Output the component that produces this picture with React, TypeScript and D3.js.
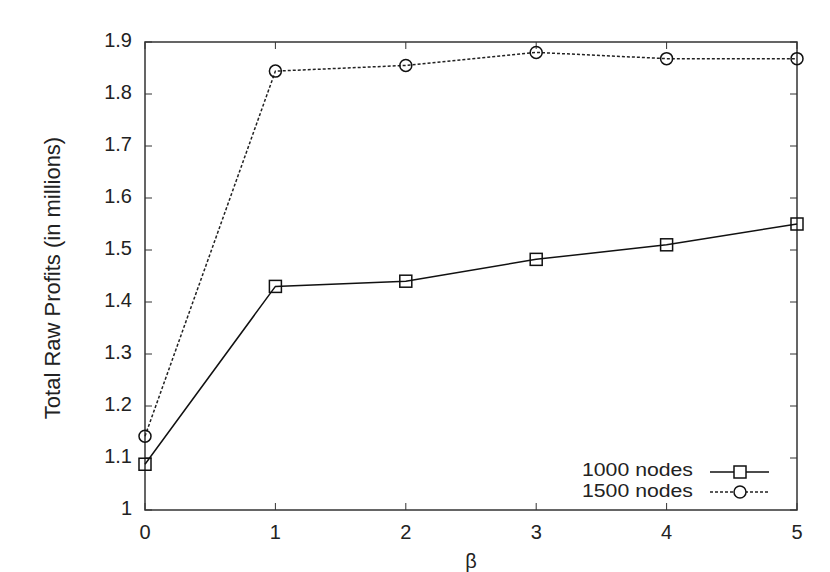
import React from 'react';
import * as d3 from 'd3';

const betas = [0, 1, 2, 3, 4, 5];
const nodes1000 = [1.088, 1.43, 1.44, 1.482, 1.51, 1.55];
const nodes1500 = [1.142, 1.844, 1.855, 1.88, 1.868, 1.868];
const yTicks = [1, 1.1, 1.2, 1.3, 1.4, 1.5, 1.6, 1.7, 1.8, 1.9];
const seriesNames = ['1000 nodes', '1500 nodes'];

const width = 830;
const height = 572;
const margin = { top: 42, right: 33, bottom: 62, left: 145 };
const font = 'Liberation Sans, Arial, sans-serif';

const App = () => {
    const x = d3.scaleLinear()
        .domain([0, 5])
        .range([margin.left, width - margin.right]);
    const y = d3.scaleLinear()
        .domain([1, 1.9])
        .range([height - margin.bottom, margin.top]);

    const line = d3.line<number>()
        .x((d, i) => x(betas[i]))
        .y(d => y(d));

    const x0 = x(0), x1 = x(5), y0 = y(1), y1 = y(1.9);
    const tick = 7;
    const axisColor = '#333';

    return (
        <svg width={width} height={height} style={{ position: 'absolute', left: 0, top: 0 }}>
            <rect x={0} y={0} width={width} height={height} fill="#fff" />
            {/* ticks, gnuplot style (inside, mirrored) */}
            {yTicks.map(t => (
                <g key={'y' + t}>
                    <line x1={x0} x2={x0 + tick} y1={y(t)} y2={y(t)} stroke={axisColor} strokeWidth={1} />
                    <line x1={x1} x2={x1 - tick} y1={y(t)} y2={y(t)} stroke={axisColor} strokeWidth={1} />
                    <text x={x0 - 13} y={y(t) - 2} dy="0.35em" textAnchor="end" fontFamily={font} fontSize={20} fill="#222">
                        {d3.format('~g')(t)}
                    </text>
                </g>
            ))}
            {betas.map(b => (
                <g key={'x' + b}>
                    <line x1={x(b)} x2={x(b)} y1={y0} y2={y0 - tick} stroke={axisColor} strokeWidth={1} />
                    <line x1={x(b)} x2={x(b)} y1={y1} y2={y1 + tick} stroke={axisColor} strokeWidth={1} />
                    <text x={x(b)} y={y0 + 29} textAnchor="middle" fontFamily={font} fontSize={20} fill="#222">
                        {b}
                    </text>
                </g>
            ))}
            <rect x={x0} y={y1} width={x1 - x0} height={y0 - y1} fill="none" stroke={axisColor} strokeWidth={1.5} />

            {/* axis titles */}
            <text transform={`translate(60,${(y0 + y1) / 2 + 2}) rotate(-90)`} textAnchor="middle" fontFamily={font} fontSize={22} fill="#222">
                Total Raw Profits (in millions)
            </text>
            <text x={x(2.5)} y={y0 + 58} textAnchor="middle" fontFamily={font} fontSize={20} fill="#222">β</text>

            {/* series */}
            <path d={line(nodes1500) || ''} fill="none" stroke="#222" strokeWidth={1.5} strokeDasharray="3,2" />
            <path d={line(nodes1000) || ''} fill="none" stroke="#111" strokeWidth={1.5} />
            {nodes1000.map((v, i) => (
                <rect key={'s' + i} x={x(betas[i]) - 6} y={y(v) - 6} width={12} height={12} fill="none" stroke="#111" strokeWidth={1.5} />
            ))}
            {nodes1500.map((v, i) => (
                <circle key={'c' + i} cx={x(betas[i])} cy={y(v)} r={6} fill="none" stroke="#111" strokeWidth={1.5} />
            ))}

            {/* legend */}
            <g fontFamily={font} fontSize={18} fill="#222">
                <text x={693} y={470} dy="0.35em" textAnchor="end" textLength={111} lengthAdjust="spacingAndGlyphs">{seriesNames[0]}</text>
                <line x1={710} x2={769} y1={472} y2={472} stroke="#111" strokeWidth={1.5} />
                <rect x={734} y={466} width={12} height={12} fill="#fff" stroke="#111" strokeWidth={1.5} />
                <text x={693} y={491} dy="0.35em" textAnchor="end" textLength={111} lengthAdjust="spacingAndGlyphs">{seriesNames[1]}</text>
                <line x1={710} x2={769} y1={492} y2={492} stroke="#222" strokeWidth={1.5} strokeDasharray="3,2" />
                <circle cx={740} cy={492} r={6} fill="#fff" stroke="#111" strokeWidth={1.5} />
            </g>
        </svg>
    );
};

export default App;
